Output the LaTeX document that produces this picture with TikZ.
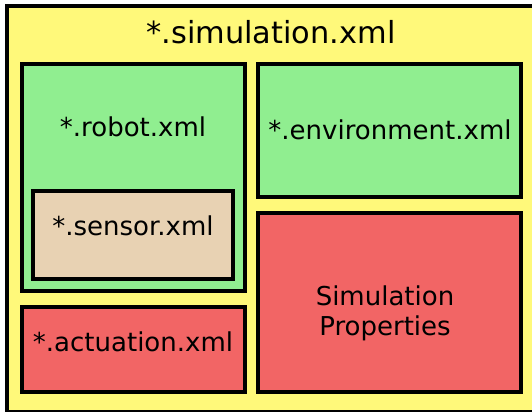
\documentclass[tikz,border=0pt]{standalone}
\usepackage{fontspec}
\setmainfont{DejaVu Sans}
\usetikzlibrary{fit}

\definecolor{simyellow}{HTML}{FFF97A}
\definecolor{simgreen}{HTML}{90EE90}
\definecolor{simred}{HTML}{F26565}
\definecolor{simtan}{HTML}{E8D2B3}

\begin{document}
\begin{tikzpicture}[x=0.75pt,y=-0.75pt,
    box/.style={draw=black,line width=3pt,inner sep=0pt,outer sep=0pt},
    main text/.style={font=\fontsize{19.5}{22.5}\selectfont,align=center,inner sep=0pt},
    title text/.style={font=\fontsize{22.8}{27}\selectfont,inner sep=0pt}]

    \useasboundingbox (0,0) rectangle (532,411);
    \fill[white] (0,0) rectangle (532,411);

    % outer file
    \node (sim) [box,fill=simyellow,fit={(7,6) (536,412)}] {};
    \node (simtxt) [title text] at (271,32) {*.simulation.xml};

    % robot with its sensor
    \node (robot) [box,fill=simgreen,fit={(22,64) (245,291)}] {};
    \node (robottxt) [main text] at (133,127) {*.robot.xml};
    \node (sensor) [box,fill=simtan,fit={(33,191) (233,279)}] {};
    \node (sensortxt) [main text] at (133,226) {*.sensor.xml};

    % actuation
    \node (act) [box,fill=simred,fit={(22,307) (245,392)}] {};
    \node (acttxt) [main text] at (133,342) {*.actuation.xml};

    % environment
    \node (env) [box,fill=simgreen,fit={(258,64) (521,197)}] {};
    \node (envtxt) [main text] at (390,130) {*.environment.xml};

    % properties
    \node (props) [box,fill=simred,fit={(258,213) (521,392)}] {};
    \node (propstxt) [main text] at (385,313) {Simulation\\Properties};

\end{tikzpicture}
\end{document}
